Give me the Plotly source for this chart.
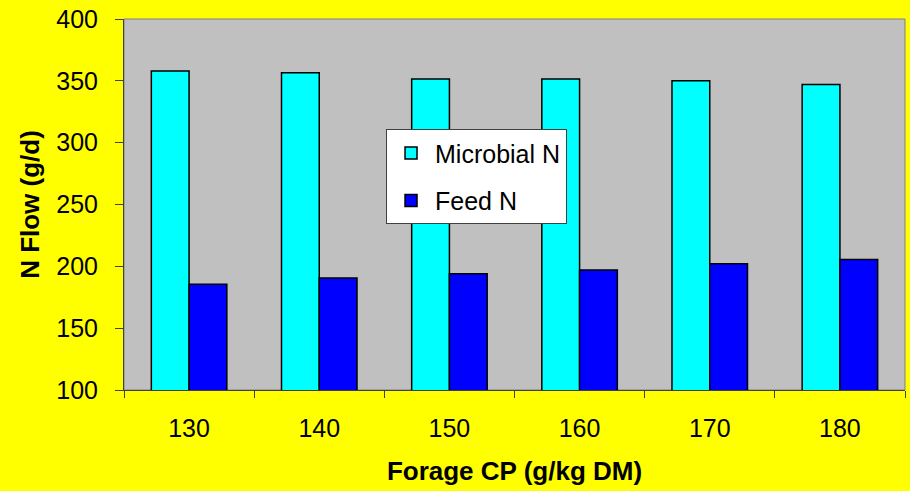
import plotly.graph_objects as go

# Forage crude protein levels (g/kg DM)
forage_cp = ["130", "140", "150", "160", "170", "180"]
# Duodenal nitrogen flows (g/d)
microbial_n = [358, 356.5, 351.5, 351.5, 350, 347]
feed_n = [185.5, 190.5, 194, 197, 202, 205.5]

FONT = "Liberation Sans, Arial, sans-serif"

fig = go.Figure()
fig.add_trace(go.Bar(
    x=forage_cp, y=microbial_n, name="Microbial N", legendgroup="m",
    marker=dict(color="#00FFFF", line=dict(color="#000000", width=1.5)),
))
fig.add_trace(go.Bar(
    x=forage_cp, y=feed_n, name="Feed N", legendgroup="f",
    marker=dict(color="#0000FF", line=dict(color="#000000", width=1.5)),
))

fig.update_layout(
    width=910, height=491,
    margin=dict(l=124, r=5, t=19, b=101),
    paper_bgcolor="#FFFF00",
    plot_bgcolor="#C0C0C0",
    barmode="group",
    bargap=0.42,
    bargroupgap=0,
    font=dict(family=FONT, color="#000000", size=25),
    showlegend=True,
    legend=dict(
        x=0.3355, y=0.703, xanchor="left", yanchor="top",
        bgcolor="#FFFFFF", bordercolor="#404040", borderwidth=1,
        font=dict(family=FONT, size=25, color="#000000"),
        traceorder="grouped", tracegroupgap=12,
        itemwidth=38,
    ),
    shapes=[dict(
        type="rect", xref="paper", yref="paper", x0=0, x1=1, y0=0, y1=1,
        line=dict(color="#808080", width=1), layer="below",
    )],
)

fig.update_xaxes(
    type="category",
    tickson="boundaries",
    ticks="outside", ticklen=7, tickwidth=1, tickcolor="#404040",
    showline=True, linecolor="#404040", linewidth=1,
    showgrid=False,
    ticklabelstandoff=16,
    tickfont=dict(size=25),
    title=dict(text="<b>Forage CP (g/kg DM)</b>", font=dict(size=26), standoff=20),
)
fig.update_yaxes(
    range=[100, 400], dtick=50, tick0=100,
    ticks="outside", ticklen=8, tickwidth=1, tickcolor="#404040",
    showline=True, linecolor="#404040", linewidth=1,
    showgrid=False, zeroline=False,
    ticklabelstandoff=12,
    tickfont=dict(size=25),
    title=dict(text="<b>N Flow (g/d)</b>", font=dict(size=26), standoff=9),
)

fig.write_html("out.html")
